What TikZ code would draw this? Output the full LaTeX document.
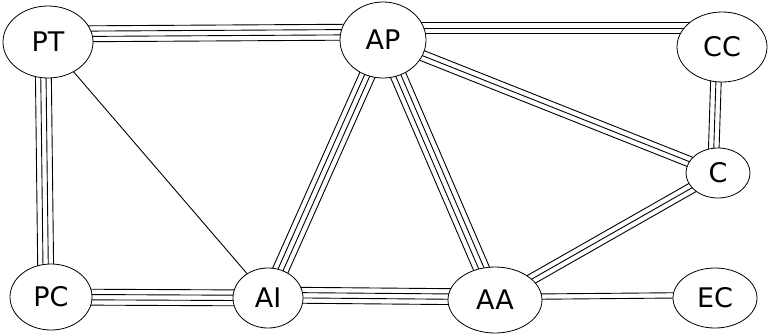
\documentclass[tikz,border=0pt]{standalone}
\usepackage{fontspec}
\setmainfont{DejaVu Sans}
\usetikzlibrary{shapes.geometric,calc}
\pgfdeclarelayer{background}
\pgfsetlayers{background,main}
\tikzset{
  state/.style={ellipse, draw, line width=0.8pt, fill=white, inner sep=0pt,
    font=\fontsize{27}{30}\selectfont},
  link/.style={line width=0.9pt},
}
% n parallel strokes between two nodes, 5pt apart, whole bundle shifted by #4
\newcommand{\multilink}[4]{%
  \path ($(#1.center)+(#4)$) coordinate (la) ($(#2.center)+(#4)$) coordinate (lb);
  \foreach \k in {1,...,#3}{
    \pgfmathsetmacro{\off}{(\k-(#3+1)/2)*5.3}
    \draw[link] ($(la)!\off pt!90:(lb)$) -- ($(lb)!\off pt!-90:(la)$);
  }}

\begin{document}
\begin{tikzpicture}[x=1pt,y=-1pt]
  \useasboundingbox (0,0) rectangle (768,335);

  \node[state, minimum width=90, minimum height=72] (PT) at (48,42) {PT};
  \node[state, minimum width=86, minimum height=76] (AP) at (383,40) {AP};
  \node[state, minimum width=90, minimum height=70] (CC) at (722,47) {CC};
  \node[state, minimum width=64, minimum height=50] (C) at (718,173) {C};
  \node[state, minimum width=82, minimum height=66] (PC) at (51,297) {PC};
  \node[state, minimum width=70, minimum height=60] (AI) at (268,298) {AI};
  \node[state, minimum width=94, minimum height=66] (AA) at (495,300) {AA};
  \node[state, minimum width=84, minimum height=60] (EC) at (715,298) {EC};

  \begin{pgfonlayer}{background}
    \multilink{PT}{AP}{4}{0,-8}
    \multilink{PT}{PC}{4}{-5,0}
    \multilink{PT}{AI}{1}{0,0}
    \path (AP.center) ++(0,-12) coordinate (apr) (CC.center) ++(0,-19) coordinate (ccl);
    \foreach \k in {1,2,3}{
      \pgfmathsetmacro{\off}{(\k-2)*5.3}
      \draw[link] ([yshift=-\off pt]apr) -- ([yshift=-\off pt]ccl);
    }
    \multilink{AP}{C}{3}{0,0}
    \multilink{AP}{AI}{4}{0,0}
    \multilink{AP}{AA}{4}{0,0}
    \multilink{CC}{C}{3}{-5,0}
    \multilink{C}{AA}{3}{0,0}
    \multilink{PC}{AI}{4}{0,0}
    \multilink{AI}{AA}{4}{0,-3}
    \multilink{AA}{EC}{2}{0,-3}
  \end{pgfonlayer}
\end{tikzpicture}
\end{document}
